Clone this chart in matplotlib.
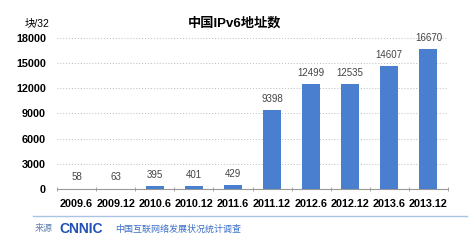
import matplotlib.pyplot as plt
import numpy as np

plt.rcParams['font.family'] = ['Liberation Sans', 'Noto Sans CJK SC', 'DejaVu Sans']

periods = ["2009.6", "2009.12", "2010.6", "2010.12", "2011.6",
           "2011.12", "2012.6", "2012.12", "2013.6", "2013.12"]
blocks = [58, 63, 395, 401, 429, 9398, 12499, 12535, 14607, 16670]
y_ticks = [0, 3000, 6000, 9000, 12000, 15000, 18000]

fig = plt.figure(figsize=(4.72, 2.43), dpi=100)
fig.patch.set_facecolor('white')

ax = fig.add_axes([0.121, 0.222, 0.828, 0.622])
ax.set_facecolor('none')

x = np.arange(len(periods))
ax.bar(x, blocks, width=0.46, color='#4a7fcf', zorder=3)

for xi, v in zip(x, blocks):
    ax.annotate(str(v), (xi, v), xytext=(0, 8), textcoords='offset points',
                ha='center', va='center', fontsize=7, color='#444444')

ax.set_xlim(-0.5, len(periods) - 0.5)
ax.set_ylim(0, 18000)
ax.set_yticks(y_ticks)
ax.set_yticklabels([str(t) for t in y_ticks], fontsize=7.8, fontweight='bold')
ax.set_xticks(x)
ax.set_xticklabels(periods, fontsize=7.8, fontweight='bold')
ax.set_xticks(np.arange(-0.5, len(periods)), minor=True)
ax.tick_params(axis='x', which='major', length=0, pad=7)
ax.tick_params(axis='x', which='minor', length=3, direction='inout', color='#999999')
ax.tick_params(axis='y', length=0, pad=8)

ax.yaxis.grid(True, linestyle=(0, (1, 2)), color='#bbbbbb', linewidth=0.7)
ax.set_axisbelow(True)
for side in ['top', 'right', 'left']:
    ax.spines[side].set_visible(False)
ax.spines['bottom'].set_color('#999999')
ax.spines['bottom'].set_linewidth(0.8)

fig.text(0.498, 0.905, "中国IPv6地址数", fontsize=9.5, fontweight='bold',
         ha='center', va='center')
fig.text(0.052, 0.905, "块/32", fontsize=7.5, ha='left', va='center')

# footer
fig.add_artist(plt.Line2D([0.07, 0.99], [0.111, 0.111], color='#a9c4e4',
                          linewidth=1.0, transform=fig.transFigure))
fig.text(0.074, 0.058, "来源", fontsize=6.5, color='#6080b0', ha='left', va='center')
fig.text(0.125, 0.058, "CNNIC", fontsize=10, color='#2050b8', fontweight='bold',
         ha='left', va='center')
fig.text(0.244, 0.058, "中国互联网络发展状况统计调查", fontsize=6.5, color='#3a6fc8',
         ha='left', va='center')

fig.savefig('out.png', dpi=100)
